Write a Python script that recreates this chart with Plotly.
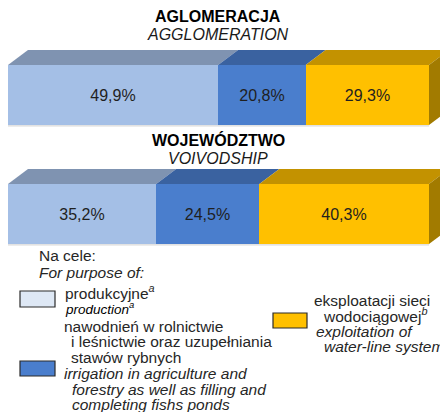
import plotly.graph_objects as go

# ---- data ----
groups = ["AGLOMERACJA", "WOJEWÓDZTWO"]
groups_en = ["AGGLOMERATION", "VOIVODSHIP"]
categories = ["produkcyjne", "nawodnień", "eksploatacji"]
agglomeration = [49.9, 20.8, 29.3]
voivodship = [35.2, 24.5, 40.3]
series = [agglomeration, voivodship]

# ---- styles ----
front_colors = ["#A4BFE6", "#4A7ECD", "#FFC000"]
top_colors = ["#7F93B1", "#3A62A0", "#C39200"]
side_color = "#A27B00"
W, H = 440, 412
px_per_unit = 4.21
x0_px = 8
xr = [-x0_px / px_per_unit, (W - x0_px) / px_per_unit]
depth_x = 20 / px_per_unit
depth_y = 15
bar_h = 60
bar_centers = [95, 214]     # y positions (pixel-like axis)
title_y = [[17, 35], [140, 158]]
FONT = "Liberation Sans, Arial"

fig = go.Figure()

for gi, vals in enumerate(series):
    yc = bar_centers[gi]
    ytop = yc - bar_h / 2
    ybot = yc + bar_h / 2
    cum = 0
    for ci, v in enumerate(vals):
        fig.add_trace(go.Bar(
            orientation="h", x=[v], base=[cum], y=[yc], width=bar_h,
            marker=dict(color=front_colors[ci], line=dict(width=0)),
            text=[f"{v:.1f}%".replace(".", ",")], textposition="inside",
            insidetextanchor="middle",
            textfont=dict(size=16, color="#1F1F1F", family=FONT),
            showlegend=False, hoverinfo="skip"))
        a, b = cum, cum + v
        fig.add_trace(go.Scatter(
            x=[a, b, b + depth_x, a + depth_x, a],
            y=[ytop, ytop, ytop - depth_y, ytop - depth_y, ytop],
            fill="toself", fillcolor=top_colors[ci], mode="lines",
            line=dict(width=0), showlegend=False, hoverinfo="skip"))
        cum += v
    fig.add_trace(go.Scatter(
        x=[cum, cum + depth_x, cum + depth_x, cum, cum],
        y=[ytop, ytop - depth_y, ybot - depth_y, ybot, ytop],
        fill="toself", fillcolor=side_color, mode="lines",
        line=dict(width=0), showlegend=False, hoverinfo="skip"))
    fig.add_trace(go.Scatter(
        x=[0, cum], y=[ybot + 0.8, ybot + 0.8], mode="lines",
        line=dict(color="#D9D9D9", width=1.2), showlegend=False, hoverinfo="skip"))

annotations = []
def txt(s, x, y, size=15.5, anchor="left", italic=False, bold=False, color="#262626"):
    if italic:
        s = f"<i>{s}</i>"
    if bold:
        s = f"<b>{s}</b>"
    annotations.append(dict(text=s, x=x / W, y=1 - y / H, xref="paper", yref="paper",
                            xanchor=anchor, yanchor="middle", showarrow=False,
                            font=dict(size=size, color=color, family=FONT)))

for gi in range(2):
    txt(groups[gi], 218, title_y[gi][0], size=16, anchor="center", bold=True, color="#000000")
    txt(groups_en[gi], 218, title_y[gi][1], size=16, anchor="center", italic=True, color="#1A1A1A")

txt("Na cele:", 37, 256)
txt("For purpose of:", 37, 272, italic=True)
txt("produkcyjne<sup><i>a</i></sup>", 63, 292)
txt("production<sup>a</sup>", 63, 308, size=13.5, italic=True, color="#000000")
txt("nawodnień w rolnictwie", 62, 326)
txt("i leśnictwie oraz uzupełniania", 69, 341)
txt("stawów rybnych", 69, 357)
txt("irrigation in agriculture and", 62, 373, italic=True)
txt("forestry as well as filling and", 70, 389, italic=True)
txt("completing fishs ponds", 70, 404, italic=True)
txt("eksploatacji sieci", 312, 300)
txt("wodociągowej<sup><i>b</i></sup>", 321, 315)
txt("exploitation of", 314, 331, italic=True)
txt("water-line system", 322, 346, italic=True)

legend_boxes = [
    (20, 291, 55, 307, "#DEE8F5"),
    (20, 361, 55, 376, "#4A7ECD"),
    (273, 313, 307, 328, "#FFC000"),
]
shapes = []
for (bx0, by0, bx1, by1, col) in legend_boxes:
    shapes.append(dict(type="rect", xref="paper", yref="paper",
                       x0=bx0 / W, x1=bx1 / W, y0=1 - by1 / H, y1=1 - by0 / H,
                       fillcolor=col, line=dict(color="#2B2B2B", width=1.2)))

fig.update_layout(
    width=W, height=H, margin=dict(l=0, r=0, t=0, b=0),
    paper_bgcolor="white", plot_bgcolor="white",
    barmode="overlay", bargap=0,
    xaxis=dict(range=xr, visible=False, fixedrange=True),
    yaxis=dict(range=[H, 0], visible=False, fixedrange=True),
    annotations=annotations, shapes=shapes,
    uniformtext=dict(minsize=8, mode="show"),
)

fig.write_html("out.html", config={"displayModeBar": False},
               post_script="document.body.style.margin='0';document.body.style.overflow='hidden';")
